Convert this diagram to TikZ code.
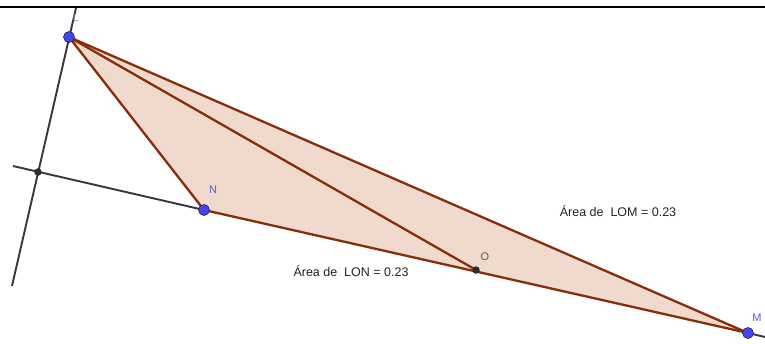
\documentclass[tikz,border=0pt]{standalone}
\usepackage{fontspec}
\setmainfont{Liberation Sans}
\begin{document}
\begin{tikzpicture}[x=1pt,y=-1pt,
  edge/.style={draw={rgb,255:red,135;green,45;blue,10},line width=2.3pt,line cap=round},
  aux/.style={draw={rgb,255:red,55;green,55;blue,55},line width=1.9pt},
  freept/.style={circle,fill={rgb,255:red,70;green,70;blue,230},draw={rgb,255:red,30;green,30;blue,120},line width=0.6pt,inner sep=0pt,minimum size=11pt},
  fixpt/.style={circle,fill={rgb,255:red,45;green,45;blue,45},inner sep=0pt,minimum size=7.5pt},
  lbl/.style={font=\fontsize{11}{13}\selectfont,text={rgb,255:red,90;green,90;blue,200}},
  area/.style={font=\fontsize{12.5}{14}\selectfont,text={rgb,255:red,35;green,35;blue,35},inner sep=0pt}]
\useasboundingbox (0,0) rectangle (765,343);
\fill[white] (0,0) rectangle (765,343);
% top rule
\coordinate (T1) at (0,7);
\coordinate (T2) at (765,7);
\draw[line width=1.6pt] (T1) -- (T2);
% points
\coordinate (L) at (69,37);
\coordinate (N) at (204,210);
\coordinate (O) at (476,270);
\coordinate (M) at (748,333);
\coordinate (P) at (38,172);
\coordinate (A1) at (76,8);
\coordinate (A2) at (12,286);
\coordinate (B1) at (13,166);
\coordinate (B2) at (765,337);
% polygon fill
\fill[fill={rgb,255:red,240;green,218;blue,205}] (L) -- (N) -- (M) -- cycle;
% auxiliary lines
\draw[aux] (A1) -- (A2);
\draw[aux] (B1) -- (N);
\draw[aux] (M) -- (B2);
% triangle edges
\draw[edge] (L) -- (N);
\draw[edge] (N) -- (M);
\draw[edge] (L) -- (M);
\draw[edge] (L) -- (O);
% point markers
\node[fixpt] (p) at (P) {};
\node[fixpt] (o) at (O) {};
\node[freept] (l) at (L) {};
\node[freept] (n) at (N) {};
\node[freept] (m) at (M) {};
% labels
\node[lbl,text={rgb,255:red,150;green,150;blue,190}] at (76,18) {L};
\node[lbl] at (213,190) {N};
\node[lbl,text={rgb,255:red,90;green,90;blue,90}] at (485,257) {O};
\node[lbl] at (757,318) {M};
\node[area] (t1) at (351,271) {Área de\ \ LON = 0.23};
\node[area] (t2) at (618,211) {Área de\ \ LOM = 0.23};
\end{tikzpicture}
\end{document}
